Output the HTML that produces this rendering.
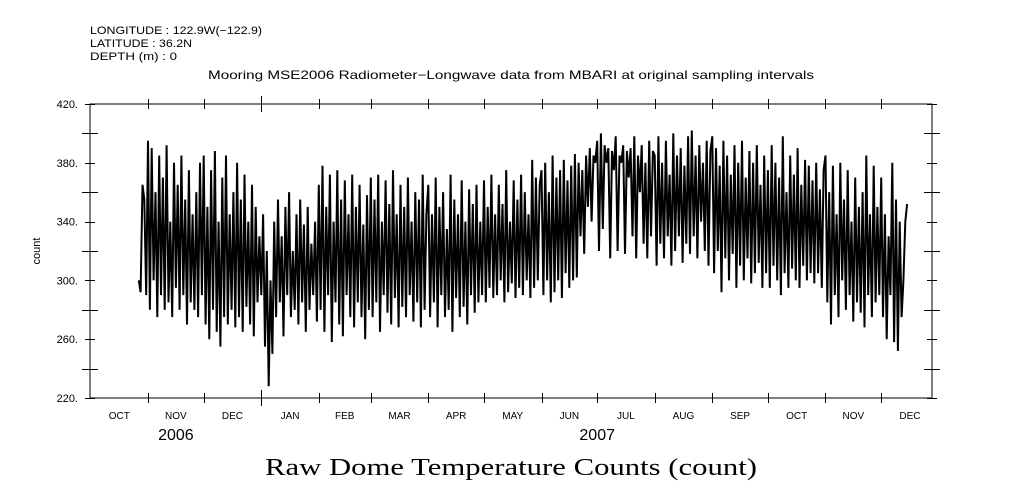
<!DOCTYPE html>
<html><head><meta charset="utf-8"><style>
body{margin:0;background:#fff;}
svg{display:block;font-family:"Liberation Sans",sans-serif;}
</style></head><body>
<svg id="chart" width="1009" height="504" viewBox="0 0 1009 504">
<rect width="1009" height="504" fill="#fff"/>
<g font-size="11" fill="#000">
<text x="90" y="34" textLength="172" lengthAdjust="spacingAndGlyphs">LONGITUDE : 122.9W(−122.9)</text>
<text x="90" y="47" textLength="102" lengthAdjust="spacingAndGlyphs">LATITUDE : 36.2N</text>
<text x="90" y="60" textLength="87" lengthAdjust="spacingAndGlyphs">DEPTH (m) : 0</text>
<text x="208" y="79" textLength="606" lengthAdjust="spacingAndGlyphs" font-size="12">Mooring MSE2006 Radiometer−Longwave data from MBARI at original sampling intervals</text>
<text x="40" y="251" text-anchor="middle" transform="rotate(-90 40 251)">count</text>
<text x="265" y="475" textLength="492" lengthAdjust="spacingAndGlyphs" font-family="'Liberation Serif',serif" font-size="24">Raw Dome Temperature Counts (count)</text>
</g>
<g id="axes"></g>
<g id="ticks"></g>
<path id="series" fill="none" stroke="#000" stroke-width="2"/>
</svg>
<script>
const startDay = 26;
const values = [300,292,365,355,290,
395,280,390,300,360,275,385,290,370,280,392,285,340,275,380,295,365,280,385,290,355,270,375,285,345,280,360,275,380,290,
385,270,350,260,375,280,388,265,340,255,370,275,385,270,345,280,360,268,380,275,355,265,372,282,340,270,365,262,350,285,330,
290,345,255,320,228,300,250,340,275,355,285,330,262,350,290,360,275,320,280,345,270,355,285,338,265,350,280,325,290,340,272,
365,280,378,265,350,290,372,258,340,285,375,270,355,262,368,290,345,275,372,268,350,285,365,275,338,260,358,280,
370,275,355,285,372,265,340,290,368,278,352,270,375,288,345,268,365,282,350,275,370,290,340,272,360,285,355,268,372,280,345,
365,275,345,285,370,268,350,290,360,275,335,280,372,265,355,288,345,275,368,282,340,270,362,290,352,278,365,285,340,290,
368,285,350,295,372,288,345,290,365,300,352,285,375,292,340,298,368,288,355,295,372,290,360,300,345,288,382,295,370,300,365,
375,290,380,300,360,285,385,292,370,300,375,288,382,305,368,295,378,300,386,302,380,330,375,318,385,350,390,340,385,380,
395,320,400,335,392,380,390,315,388,375,398,320,385,380,392,318,388,370,390,330,398,315,385,360,392,325,380,315,395,330,388,
385,310,398,325,380,315,395,330,372,310,400,320,385,330,390,312,378,325,398,318,402,330,385,315,392,340,380,320,395,310,388,
398,305,390,320,378,292,395,315,385,300,372,318,392,295,380,310,395,300,370,315,388,298,380,305,392,312,365,295,385,305,
375,295,392,310,380,300,370,290,398,305,360,295,385,308,372,300,390,295,365,310,382,300,378,305,368,298,380,305,362,295,375,
385,285,360,270,378,290,345,275,380,300,355,280,375,290,340,272,370,285,350,278,360,268,385,290,345,275,378,285,350,290,
370,275,345,260,330,290,380,258,355,252,340,275,300,340,352];
const yTicks = [220,260,300,340,380,420];
const yTickLabels = ["220.","260.","300.","340.","380.","420."];
const monthLabels = ["OCT","NOV","DEC","JAN","FEB","MAR","APR","MAY","JUN","JUL","AUG","SEP","OCT","NOV","DEC"];
const monthStartDays = [0,31,61,92,123,151,182,212,243,273,304,335,365,396,426,457];
const yearLabels = ["2006","2007"];
const yearDays = [46,273];

const L=90,R=932,T=104,B=398;
const x = d => 90.5 + d*1.856;
const y = v => B - (v-220)/200*(B-T);
const NS="http://www.w3.org/2000/svg";
function mk(tag,attrs,parent){const e=document.createElementNS(NS,tag);for(const k in attrs)e.setAttribute(k,attrs[k]);parent.appendChild(e);return e;}
const axes=document.getElementById('axes'), ticks=document.getElementById('ticks');
let f=mk('rect',{x:L,y:T,width:R-L,height:B-T,fill:'none',stroke:'#000','stroke-width':1},axes);


for(let v=220;v<=420;v+=20){
  const major=(v%40===20)?false:true;
  const len=major?8:5; const yy=Math.round(y(v))+0.5;
  let t1=mk('line',{x1:L-len,x2:L+len,y1:yy,y2:yy,stroke:'#000'},ticks);
  
  
  let t2=mk('line',{x1:R-len,x2:R+len,y1:yy,y2:yy,stroke:'#000'},ticks);
  
  
}
yTicks.forEach((v,i)=>{
  let t=mk('text',{x:L-12,y:y(v)+4,'text-anchor':'end','font-size':11},ticks);
  t.textContent=yTickLabels[i];
  
  
});
monthStartDays.forEach((d,i)=>{
  const xx=Math.round(x(d))+0.5;
  if(xx>L+2 && xx<R-2){
    const big=(d===92);
    let a=mk('line',{x1:xx,x2:xx,y1:B-(big?8:5),y2:B+(big?8:5),stroke:'#000'},ticks);
    
    
    let b=mk('line',{x1:xx,x2:xx,y1:T-(big?8:5),y2:T+(big?8:5),stroke:'#000'},ticks);
    
    
  }
  if(i<monthLabels.length){
    let t=mk('text',{x:x((d+monthStartDays[i+1])/2),y:419,'text-anchor':'middle','font-size':10},ticks);
    t.textContent=monthLabels[i];
    
    
  }
});
yearLabels.forEach((s,i)=>{
  let t=mk('text',{x:x(yearDays[i]),y:440,'text-anchor':'middle','font-size':16},ticks);
  t.textContent=s;
  
  
});
document.getElementById('series').setAttribute('d',values.map((v,i)=>(i?'L':'M')+x(startDay+i).toFixed(1)+','+y(v).toFixed(1)).join(''));
</script>
</body></html>
